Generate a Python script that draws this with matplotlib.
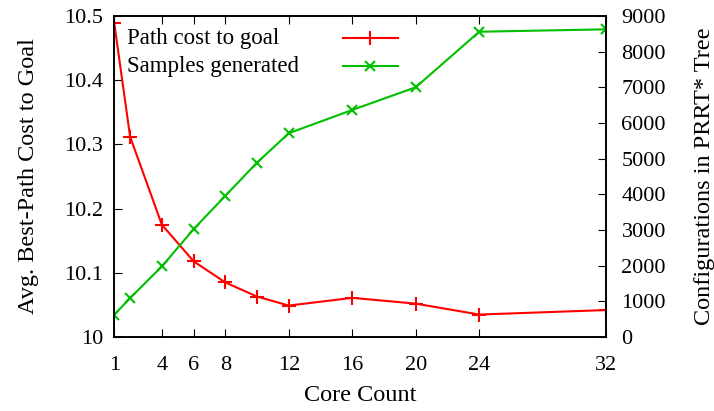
import matplotlib
matplotlib.use('Agg')
import matplotlib.pyplot as plt
from matplotlib.lines import Line2D

cores = [1, 2, 4, 6, 8, 10, 12, 16, 20, 24, 32]
path_cost = [10.489, 10.312, 10.175, 10.118, 10.085, 10.063, 10.049, 10.061, 10.052, 10.035, 10.042]
samples = [625, 1092, 1978, 3025, 3958, 4891, 5714, 6367, 7003, 8560, 8627]

xticks = [1, 4, 6, 8, 12, 16, 20, 24, 32]
yticks_left = [10, 10.1, 10.2, 10.3, 10.4, 10.5]
yticks_right = [0, 1000, 2000, 3000, 4000, 5000, 6000, 7000, 8000, 9000]
labels = ['Path cost to goal', 'Samples generated']

plt.rcParams['font.family'] = ['Liberation Serif', 'DejaVu Serif']
plt.rcParams['font.size'] = 16

red = '#ff0000'
green = '#00c000'

fig = plt.figure(figsize=(7.14, 4.11), dpi=100)
ax = fig.add_axes([0.16, 0.18, 0.689, 0.781])
ax2 = ax.twinx()

ax.plot(cores, path_cost, color=red, marker='+', markersize=10, mew=1.5, lw=1.5)
ax2.plot(cores, samples, color=green, marker='x', markersize=7, mew=1.5, lw=1.5)

ax.set_xlim(1, 32)
ax.set_ylim(10, 10.5)
ax2.set_ylim(0, 9000)
ax.set_xticks(xticks)
ax.set_yticks(yticks_left)
ax.set_yticklabels(['10', '10.1', '10.2', '10.3', '10.4', '10.5'])
ax2.set_yticks(yticks_right)

ax.tick_params(axis='x', direction='in', top=True, length=6, pad=14)
ax.tick_params(axis='y', direction='in', length=6, pad=8)
ax2.tick_params(axis='y', direction='in', length=6, pad=11)

for a in (ax, ax2):
    for s in a.spines.values():
        s.set_linewidth(1.2)

ax.set_xlabel('Core Count', labelpad=7, fontsize=17.5)
ax.set_ylabel('Avg. Best-Path Cost to Goal', labelpad=18, fontsize=17.5)
ax2.set_ylabel('Configurations in PRRT* Tree', labelpad=20, fontsize=17.5)

# gnuplot-style key: text on the left, sample on the right
key_rows = [(0.931, red, '+', 10), (0.844, green, 'x', 7)]
for (ky, col, mk, ms), lab in zip(key_rows, labels):
    ax.text(0.026, ky, lab, transform=ax.transAxes, ha='left', va='center', fontsize=16.5)
    ax.add_line(Line2D([0.464, 0.576], [ky, ky], transform=ax.transAxes, color=col, lw=1.5))
    ax.add_line(Line2D([0.52], [ky], transform=ax.transAxes, color=col, marker=mk,
                       markersize=ms, mew=1.5))

fig.savefig('out.png', dpi=100)
